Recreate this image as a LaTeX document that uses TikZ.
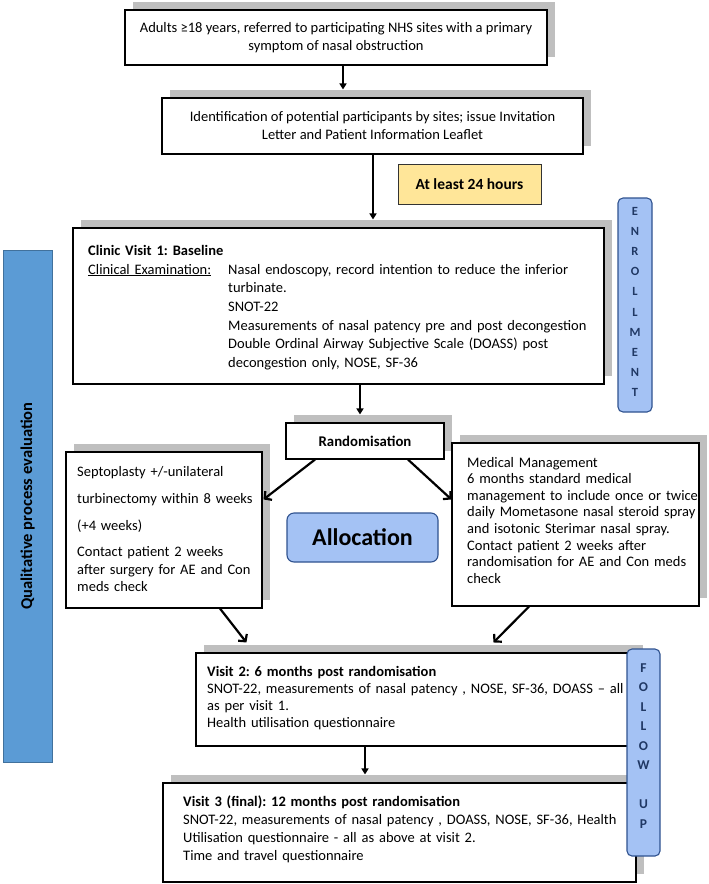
\documentclass[tikz,border=0pt]{standalone}
\usepackage{fontspec}
\setmainfont{Carlito}
\frenchspacing
\usetikzlibrary{arrows.meta,fit,calc}
\definecolor{shadowc}{HTML}{BFBFBF}
\definecolor{lblue}{HTML}{A4C2F4}
\definecolor{dblue}{HTML}{2F528F}
\definecolor{lettc}{HTML}{203864}
\definecolor{qblue}{HTML}{5B9BD5}
\definecolor{qborder}{HTML}{41719C}
\definecolor{ylw}{HTML}{FFE699}
\newcommand\shbox[5]{%
  \fill[shadowc] (#2+8,#3-8) rectangle (#4+8,#5-8);
  \node[box, fit={(#2,#3) (#4,#5)}] (#1) {};
}
\begin{document}
\begin{tikzpicture}[x=1pt,y=-1pt,
  font=\fontsize{14.5}{18}\selectfont,
  box/.style={draw=black, line width=1.1pt, fill=white, inner sep=0pt},
  txt/.style={inner sep=0pt, anchor=base west, align=left, text width=#1},
  txt/.default=470pt,
  sidebox/.style={draw=dblue, line width=1.1pt, fill=lblue, rounded corners=5pt, inner sep=0pt},
  varr/.style={line width=1.6pt, -{Triangle[length=6pt,width=7pt]}},
  darr/.style={line width=2.2pt, -{Straight Barb[length=5pt,width=11pt]}},
  letters/.style={inner sep=0pt, anchor=base, align=center, text width=20pt, text=lettc}
]
\useasboundingbox (0,0) rectangle (709,884);

% qualitative bar
\node[fill=qblue, draw=qborder, line width=0.8pt, inner sep=0pt, fit={(3,250) (52,762)}] (qual) {};
\node[rotate=90, font=\bfseries\fontsize{16.5}{18}\selectfont, inner sep=0pt] (qualtxt) at (qual.center) {Qualitative process evaluation};

% box 1
\shbox{b1}{125}{10}{547}{65}
\node[align=center, inner sep=0pt] (t1) at (b1.center) {Adults ≥18 years, referred to participating NHS sites with a primary\\symptom of nasal obstruction};

% box 2
\shbox{b2}{162}{98}{583}{154}
\node[align=center, inner sep=0pt] (t2) at (b2.center) {Identification of potential participants by sites; issue Invitation\\Letter and Patient Information Leaflet};

% yellow
\node[fill=ylw, draw=black!80, line width=0.8pt, inner sep=0pt, fit={(398,164) (541,204)}] (yl) {};
\node[font=\bfseries\fontsize{15.5}{17}\selectfont, inner sep=0pt] (ylt) at (yl.center) {At least 24 hours};

% box 3
\shbox{b3}{73}{228}{604}{384}
\node[txt, font=\bfseries\fontsize{14.5}{18}\selectfont] (t3a) at (88,255) {Clinic Visit 1: Baseline};
\node[txt=140pt] (t3b) at (88,274) {\underline{Clinical Examination:}};
\node[txt=375pt, font=\fontsize{14.5}{18.7}\selectfont] (t3c) at (228,274) {Nasal endoscopy, record intention to reduce the inferior\\turbinate.\\SNOT-22\\Measurements of nasal patency pre and post decongestion\\Double Ordinal Airway Subjective Scale (DOASS) post\\decongestion only, NOSE, SF-36};

% enrollment
\node[sidebox, fit={(618,198) (652,412)}] (enr) {};
\node[letters, font=\bfseries\fontsize{12.5}{20.2}\selectfont] (enrt) at (635,215) {E\\N\\R\\O\\L\\L\\M\\E\\N\\T};

% randomisation
\shbox{rand}{286}{423}{444}{459}
\node[font=\bfseries\fontsize{14.8}{16}\selectfont, inner sep=0pt] (randt) at (rand.center) {Randomisation};

% left box
\shbox{lb}{66}{452}{262}{608}
\node[txt=192pt, font=\fontsize{14.5}{17.5}\selectfont] (lbt) at (77,476) {Septoplasty +/-unilateral\\[9.5pt]turbinectomy within 8 weeks\\[9.5pt](+4 weeks)\\[9pt]Contact patient 2 weeks\\after surgery for AE and Con\\meds check};

% right box
\shbox{rb}{452}{443}{699}{606}
\node[txt=245pt, font=\fontsize{14.5}{16.6}\selectfont] (rbt) at (467,467) {Medical Management\\6 months standard medical\\management to include once or twice\\daily Mometasone nasal steroid spray\\and isotonic Sterimar nasal spray.\\Contact patient 2 weeks after\\randomisation for AE and Con meds\\check};

% allocation
\node[sidebox, rounded corners=7pt, fit={(287,513) (438,562)}] (alloc) {};
\node[font=\bfseries\fontsize{24}{26}\selectfont, inner sep=0pt] (alloct) at (alloc.center) {Allocation};

% visit 2
\shbox{v2}{196}{653}{635}{746}
\node[txt, font=\fontsize{14.5}{17.3}\selectfont] (v2t) at (207,676) {\textbf{Visit 2: 6 months post randomisation}\\SNOT-22, measurements of nasal patency , NOSE, SF-36, DOASS – all\\as per visit 1.\\Health utilisation questionnaire};

% visit 3
\shbox{v3}{163}{783}{636}{882}
\node[txt, font=\fontsize{14.5}{18}\selectfont] (v3t) at (183,806) {\textbf{Visit 3 (final): 12 months post randomisation}\\SNOT-22, measurements of nasal patency , DOASS, NOSE, SF-36, Health\\Utilisation questionnaire - all as above at visit 2.\\Time and travel questionnaire};

% follow up
\node[sidebox, fit={(627,649) (660,856)}] (fup) {};
\node[letters, font=\bfseries\fontsize{13.5}{19.5}\selectfont] (fupt) at (643.5,672) {F\\O\\L\\L\\O\\W\\[19.5pt]U\\P};

% arrows
\coordinate (c1) at (343,0);
\coordinate (c2) at (373,0);
\coordinate (c3) at (360,0);
\coordinate (c4) at (365,0);
\draw[varr] (b1.south -| c1) -- ($(b2.north -| c1)+(0,-8)$);
\draw[varr] (b2.south -| c2) -- ($(b3.north -| c2)+(0,-8)$);
\draw[varr] (b3.south -| c3) -- ($(rand.north -| c3)+(0,-8)$);
\draw[darr] ($(rand.south)+(-50,0)$) -- ($(lb.north east)+(1,48)$);
\draw[darr] ($(rand.south)+(43,0)$) -- ($(rb.north west)+(0,57)$);
\draw[darr] ($(lb.south)+(56,0)$) -- ($(v2.north west)+(51,-10)$);
\draw[darr] ($(rb.south)+(-46.5,0)$) -- ($(v2.north west)+(298,-10)$);
\draw[varr] (v2.south -| c4) -- ($(v3.north -| c4)+(0,-8)$);
\end{tikzpicture}
\end{document}
